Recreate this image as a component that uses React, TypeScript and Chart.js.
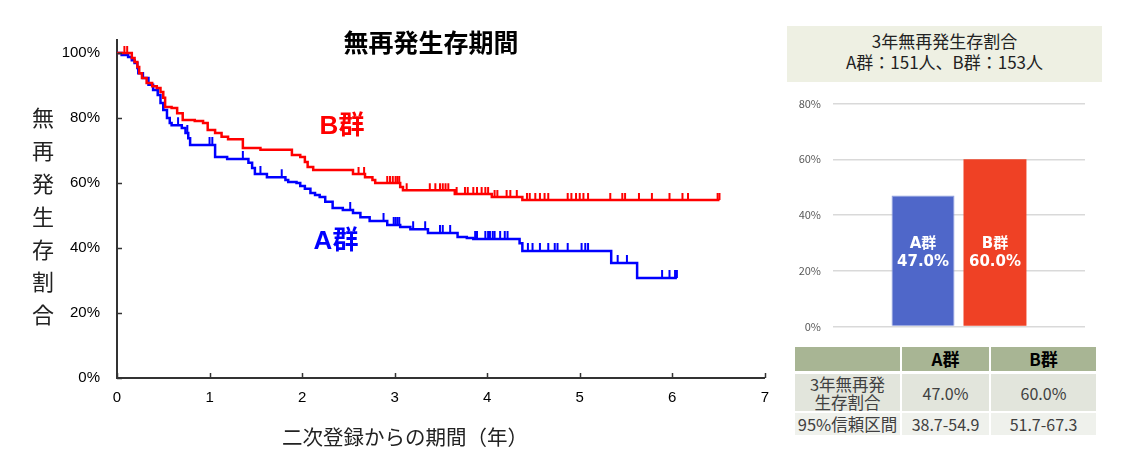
import React, { useEffect, useRef } from 'react';
import { Chart, registerables } from 'chart.js';

Chart.register(...registerables);

const JP = '"Noto Sans CJK JP", sans-serif';
const LAT = '"Liberation Sans", "Noto Sans CJK JP", sans-serif';

// --- KM curve data (years, survival %) ---
const aTimes = [0.05, 0.12, 0.16, 0.19, 0.22, 0.23, 0.28, 0.34, 0.39, 0.44, 0.47, 0.5, 0.54, 0.57, 0.59, 0.7, 0.74, 0.77, 0.79, 1.06, 1.19, 1.42, 1.46, 1.49, 1.62, 1.82, 1.85, 1.94, 1.98, 2.03, 2.09, 2.14, 2.19, 2.25, 2.33, 2.44, 2.55, 2.63, 2.73, 2.92, 3.06, 3.17, 3.36, 3.68, 3.78, 3.85, 4.35, 4.38, 5.34, 5.62];
const aSurv = [99.4, 98.8, 97.8, 96.9, 95.4, 93.8, 92.3, 90.2, 88.6, 87.1, 84.6, 82.5, 80.0, 78.5, 77.8, 76.9, 75.4, 73.8, 71.7, 68.0, 67.4, 66.2, 64.6, 62.8, 61.8, 60.9, 60.3, 60.0, 59.1, 58.2, 56.9, 56.3, 55.7, 54.2, 52.3, 51.7, 50.8, 49.5, 48.3, 47.1, 46.5, 45.8, 44.6, 43.4, 43.1, 42.8, 41.5, 39.1, 35.4, 30.8];
const aCensor = [0.66, 0.76, 1.0, 1.03, 1.36, 1.55, 1.78, 2.52, 2.88, 2.99, 3.01, 3.03, 3.05, 3.2, 3.33, 3.49, 3.52, 3.6, 3.87, 3.89, 3.98, 4.01, 4.03, 4.06, 4.08, 4.14, 4.19, 4.22, 4.44, 4.49, 4.57, 4.66, 4.73, 4.76, 4.87, 5.02, 5.06, 5.09, 5.41, 5.51, 5.89, 5.97, 6.03, 6.05];
const aEnd = 6.05;

const bTimes = [0.16, 0.19, 0.22, 0.24, 0.27, 0.32, 0.38, 0.43, 0.47, 0.5, 0.52, 0.59, 0.65, 0.71, 0.84, 0.93, 0.98, 1.06, 1.13, 1.2, 1.36, 1.55, 1.89, 1.98, 2.03, 2.06, 2.12, 2.55, 2.68, 2.76, 2.79, 3.06, 3.09, 3.65, 4.05, 4.38];
const bSurv = [98.5, 97.2, 95.7, 93.8, 92.3, 90.8, 89.8, 89.2, 88.0, 86.2, 83.4, 83.1, 81.5, 79.4, 79.1, 78.5, 76.3, 75.4, 74.2, 73.5, 70.8, 70.2, 68.6, 68.0, 66.5, 64.9, 64.0, 62.8, 61.8, 60.9, 60.0, 58.8, 57.8, 56.6, 55.7, 54.8];
const bCensor = [0.08, 0.11, 2.61, 2.67, 2.92, 2.95, 2.98, 3.01, 3.03, 3.05, 3.13, 3.38, 3.44, 3.49, 3.52, 3.55, 3.58, 3.67, 3.76, 3.79, 3.85, 3.89, 3.94, 3.98, 4.01, 4.08, 4.11, 4.21, 4.25, 4.32, 4.43, 4.46, 4.52, 4.57, 4.62, 4.66, 4.87, 4.91, 4.96, 5.0, 5.04, 5.09, 5.33, 5.46, 5.49, 5.64, 5.78, 5.97, 6.11, 6.17, 6.49, 6.51];
const bEnd = 6.51;

const yTickValues = [0, 20, 40, 60, 80, 100];
const xTickValues = [0, 1, 2, 3, 4, 5, 6, 7];
const kmTitle = '無再発生存期間';
const yTitle = '無再発生存割合';
const xTitle = '二次登録からの期間（年）';

// --- bar / table data ---
const boxLines = ['3年無再発生存割合', 'A群：151人、B群：153人'];
const barGroups = ['A群', 'B群'];
const barValues = [47.0, 60.0];
const barTicks = [0, 20, 40, 60, 80];
const ciLabels = ['38.7-54.9', '51.7-67.3'];

function survAt(times: number[], surv: number[], t: number) {
  let s = 100;
  times.forEach((tt, i) => { if (tt <= t) s = surv[i]; });
  return s;
}

function curve(times: number[], surv: number[], end: number) {
  const pts = [{ x: 0, y: 100 }];
  times.forEach((t, i) => pts.push({ x: t, y: surv[i] }));
  pts.push({ x: end, y: surv[surv.length - 1] });
  return pts;
}

const kmDecor = {
  id: 'kmDecor',
  afterDraw(chart: any) {
    const { ctx, chartArea, scales } = chart;
    const { x, y } = scales;
    ctx.save();
    ctx.strokeStyle = '#333';
    ctx.lineWidth = 1.5;
    yTickValues.forEach((v) => {
      const py = Math.round(y.getPixelForValue(v)) + 0.5;
      ctx.beginPath();
      ctx.moveTo(chartArea.left, py);
      ctx.lineTo(chartArea.left + 5, py);
      ctx.stroke();
    });
    xTickValues.forEach((v) => {
      const px = Math.round(x.getPixelForValue(v)) + 0.5;
      ctx.beginPath();
      ctx.moveTo(px, chartArea.bottom);
      ctx.lineTo(px, chartArea.bottom - 5);
      ctx.stroke();
    });
    ctx.textAlign = 'center';
    ctx.textBaseline = 'middle';
    ctx.fillStyle = '#000';
    ctx.font = `bold 25px ${JP}`;
    ctx.fillText(kmTitle, 431, 42);
    ctx.fillStyle = '#222';
    ctx.font = `22px ${JP}`;
    Array.from(yTitle).forEach((c, i) => ctx.fillText(c, 43, 118 + i * 32.8));
    ctx.font = `20.5px ${JP}`;
    ctx.fillText(xTitle, 405, 437);
    ctx.font = `bold 26px ${LAT}`;
    ctx.fillStyle = '#ff0000';
    ctx.fillText('B群', 342, 127);
    ctx.fillStyle = '#0000ff';
    ctx.fillText('A群', 336, 242);
    ctx.restore();
  },
};

function KmChart() {
  const ref = useRef<HTMLCanvasElement>(null);
  useEffect(() => {
    if (!ref.current) return;
    const censorPts = (c: number[], times: number[], surv: number[]) =>
      c.map((t) => ({ x: t, y: survAt(times, surv, t) }));
    const chart = new Chart(ref.current, {
      type: 'line',
      data: {
        datasets: [
          {
            data: curve(bTimes, bSurv, bEnd),
            borderColor: '#ff0000',
            borderWidth: 2.5,
            stepped: true,
            pointRadius: 0,
          },
          {
            data: censorPts(bCensor, bTimes, bSurv),
            showLine: false,
            pointStyle: 'dash',
            pointRotation: -90,
            pointRadius: 7,
            pointBorderWidth: 2,
            pointBorderColor: '#ff0000',
          },
          {
            data: curve(aTimes, aSurv, aEnd),
            borderColor: '#0000ff',
            borderWidth: 2.5,
            stepped: true,
            pointRadius: 0,
          },
          {
            data: censorPts(aCensor, aTimes, aSurv),
            showLine: false,
            pointStyle: 'dash',
            pointRotation: -90,
            pointRadius: 8,
            pointBorderWidth: 2,
            pointBorderColor: '#0000ff',
          },
        ] as any,
      },
      options: {
        animation: false,
        responsive: false,
        devicePixelRatio: 1,
        layout: { padding: { top: 40, right: 15, left: 0, bottom: 0 } },
        plugins: { legend: { display: false }, tooltip: { enabled: false } },
        scales: {
          x: {
            type: 'linear',
            min: 0,
            max: 7,
            afterBuildTicks: (s: any) => { s.ticks = xTickValues.map((v) => ({ value: v })); },
            afterFit: (s: any) => { s.height = 91; },
            grid: { display: false, drawTicks: false },
            border: { display: true, color: '#333', width: 2 },
            ticks: { color: '#000', font: { size: 15, family: LAT }, padding: 11, maxRotation: 0 },
          },
          y: {
            type: 'linear',
            min: 0,
            max: 104,
            afterBuildTicks: (s: any) => { s.ticks = yTickValues.map((v) => ({ value: v })); },
            afterFit: (s: any) => { s.width = 117; },
            grid: { display: false, drawTicks: false },
            border: { display: true, color: '#333', width: 2 },
            ticks: { color: '#000', font: { size: 15, family: LAT }, padding: 17, callback: (v: any) => `${v}%` },
          },
        },
      },
      plugins: [kmDecor],
    });
    return () => chart.destroy();
  }, []);
  return <canvas ref={ref} width={780} height={469} style={{ position: 'absolute', left: 0, top: 0 }} />;
}

const barLabels = {
  id: 'barLabels',
  afterDatasetsDraw(chart: any) {
    const { ctx, chartArea } = chart;
    const mid = (chartArea.top + chartArea.bottom) / 2;
    ctx.save();
    ctx.fillStyle = '#fff';
    ctx.textAlign = 'center';
    ctx.textBaseline = 'middle';
    chart.data.datasets.forEach((_: any, i: number) => {
      const bar = chart.getDatasetMeta(i).data[0];
      ctx.font = `bold 15px "DejaVu Sans", ${JP}`;
      ctx.fillText(barGroups[i], bar.x, mid + 29);
      ctx.fillText(`${barValues[i].toFixed(1)}%`, bar.x, mid + 47);
    });
    ctx.restore();
  },
};

function RateBarChart() {
  const ref = useRef<HTMLCanvasElement>(null);
  useEffect(() => {
    if (!ref.current) return;
    const chart = new Chart(ref.current, {
      type: 'bar',
      data: {
        labels: [''],
        datasets: [
          { label: barGroups[0], data: [barValues[0]], backgroundColor: '#4f67c9', borderColor: '#8e9fe0', borderWidth: 1 },
          { label: barGroups[1], data: [barValues[1]], backgroundColor: '#ef4125' },
        ],
      },
      options: {
        animation: false,
        responsive: false,
        devicePixelRatio: 1,
        layout: { padding: { top: 17, right: 35, left: 0, bottom: 13 } },
        datasets: { bar: { categoryPercentage: 0.571, barPercentage: 0.875 } },
        plugins: { legend: { display: false }, tooltip: { enabled: false } },
        scales: {
          x: { display: false },
          y: {
            min: 0,
            max: 80,
            afterBuildTicks: (s: any) => { s.ticks = barTicks.map((v) => ({ value: v })); },
            afterFit: (s: any) => { s.width = 53; },
            grid: { color: '#d9d9d9', lineWidth: 1.5, drawTicks: false },
            border: { display: false },
            ticks: { color: '#595959', font: { size: 11, family: JP }, padding: 12, callback: (v: any) => `${v}%` },
          },
        },
      },
      plugins: [barLabels],
    });
    return () => chart.destroy();
  }, []);
  return <canvas ref={ref} width={340} height={260} style={{ position: 'absolute', left: 780, top: 85 }} />;
}

const cell = (left: number, top: number, width: number, height: number, bg: string): React.CSSProperties => ({
  position: 'absolute',
  left,
  top,
  width,
  height,
  background: bg,
  display: 'flex',
  alignItems: 'center',
  justifyContent: 'center',
  textAlign: 'center',
  fontFamily: JP,
  fontSize: 16,
  color: '#404040',
  lineHeight: '18px',
  whiteSpace: 'nowrap',
});

export default function App() {
  const cols = [[795, 105], [902, 87], [991, 105]];
  const hdr = '#a8b594';
  const r2 = '#e2e5dc';
  const r3 = '#eff1ec';
  return (
    <div style={{ position: 'absolute', left: 0, top: 0, width: 1132, height: 469, background: '#fff', overflow: 'hidden' }}>
      <KmChart />
      <div
        style={{
          position: 'absolute', left: 787, top: 26, width: 315, height: 56, background: '#eef0e3',
          fontFamily: JP, fontSize: 17, lineHeight: '20.5px', color: '#222', textAlign: 'center',
          paddingTop: 5, boxSizing: 'border-box',
        }}
      >
        {boxLines.map((l) => <div key={l}>{l}</div>)}
      </div>
      <RateBarChart />
      <div style={cell(cols[0][0], 347, cols[0][1], 24, hdr)} />
      {barGroups.map((g, i) => (
        <div key={g} style={{ ...cell(cols[i + 1][0], 347, cols[i + 1][1], 24, hdr), color: '#000', fontWeight: 'bold', fontSize: 17 }}>{g}</div>
      ))}
      <div style={{ ...cell(cols[0][0], 374, cols[0][1], 37, r2), fontSize: 16.5 }}>
        <div>3年無再発<br />生存割合</div>
      </div>
      {barValues.map((v, i) => (
        <div key={i} style={{ ...cell(cols[i + 1][0], 374, cols[i + 1][1], 37, r2), fontSize: 16 }}>{`${v.toFixed(1)}%`}</div>
      ))}
      <div style={{ ...cell(cols[0][0], 413, cols[0][1], 22, r3), fontSize: 16.5 }}>95%信頼区間</div>
      {ciLabels.map((c, i) => (
        <div key={c} style={{ ...cell(cols[i + 1][0], 413, cols[i + 1][1], 22, r3), fontSize: 16 }}>{c}</div>
      ))}
    </div>
  );
}
